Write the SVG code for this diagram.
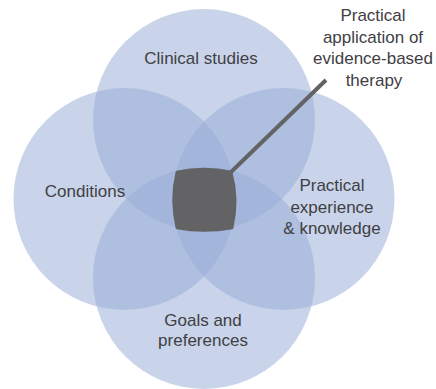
<svg xmlns="http://www.w3.org/2000/svg" width="436" height="389" viewBox="0 0 436 389">
  <style>
    .ring { fill: #97add7; fill-opacity: 0.52; }
    .label { font-family: "Liberation Sans", Arial, sans-serif; font-size: 17px; fill: #3f4044; text-anchor: middle; }
    .core { fill: #636365; stroke: #636365; stroke-width: 1.5; stroke-linejoin: round; }
    .pointer { stroke: #636365; stroke-width: 4; fill: none; }
  </style>
  <rect width="436" height="389" fill="#ffffff"/>

  <!-- four overlapping domains -->
  <g id="clinical-studies">
    <circle class="ring" cx="204" cy="120" r="111"/>
  </g>
  <g id="conditions">
    <circle class="ring" cx="124.5" cy="199" r="111"/>
  </g>
  <g id="practical-experience">
    <circle class="ring" cx="283.5" cy="199" r="111"/>
  </g>
  <g id="goals-preferences">
    <circle class="ring" cx="204" cy="278" r="111"/>
  </g>

  <!-- leader from the shared centre to its caption -->
  <g id="connectors">
    <line class="pointer" x1="230" y1="173" x2="326" y2="80"/>
  </g>

  <g id="evidence-based-therapy">
    <path class="core" d="M176.5,171.5 Q204,165.5 231.5,171.5 Q239.5,200 232.5,228.5 Q204,233.5 176.5,228.5 Q169.5,200 176.5,171.5 Z"/>
  </g>

  <!-- labels sit above every translucent disc -->
  <g id="labels">
    <text class="label" x="201" y="64">Clinical studies</text>
    <text class="label" x="85" y="197">Conditions</text>
    <text class="label" x="332" y="191">Practical</text>
    <text class="label" x="332" y="213">experience</text>
    <text class="label" x="332" y="234">&amp; knowledge</text>
    <text class="label" x="203" y="326">Goals and</text>
    <text class="label" x="203" y="346">preferences</text>
    <text class="label" x="373" y="21">Practical</text>
    <text class="label" x="373" y="43">application of</text>
    <text class="label" x="373" y="64">evidence-based</text>
    <text class="label" x="374" y="86">therapy</text>
  </g>
</svg>
